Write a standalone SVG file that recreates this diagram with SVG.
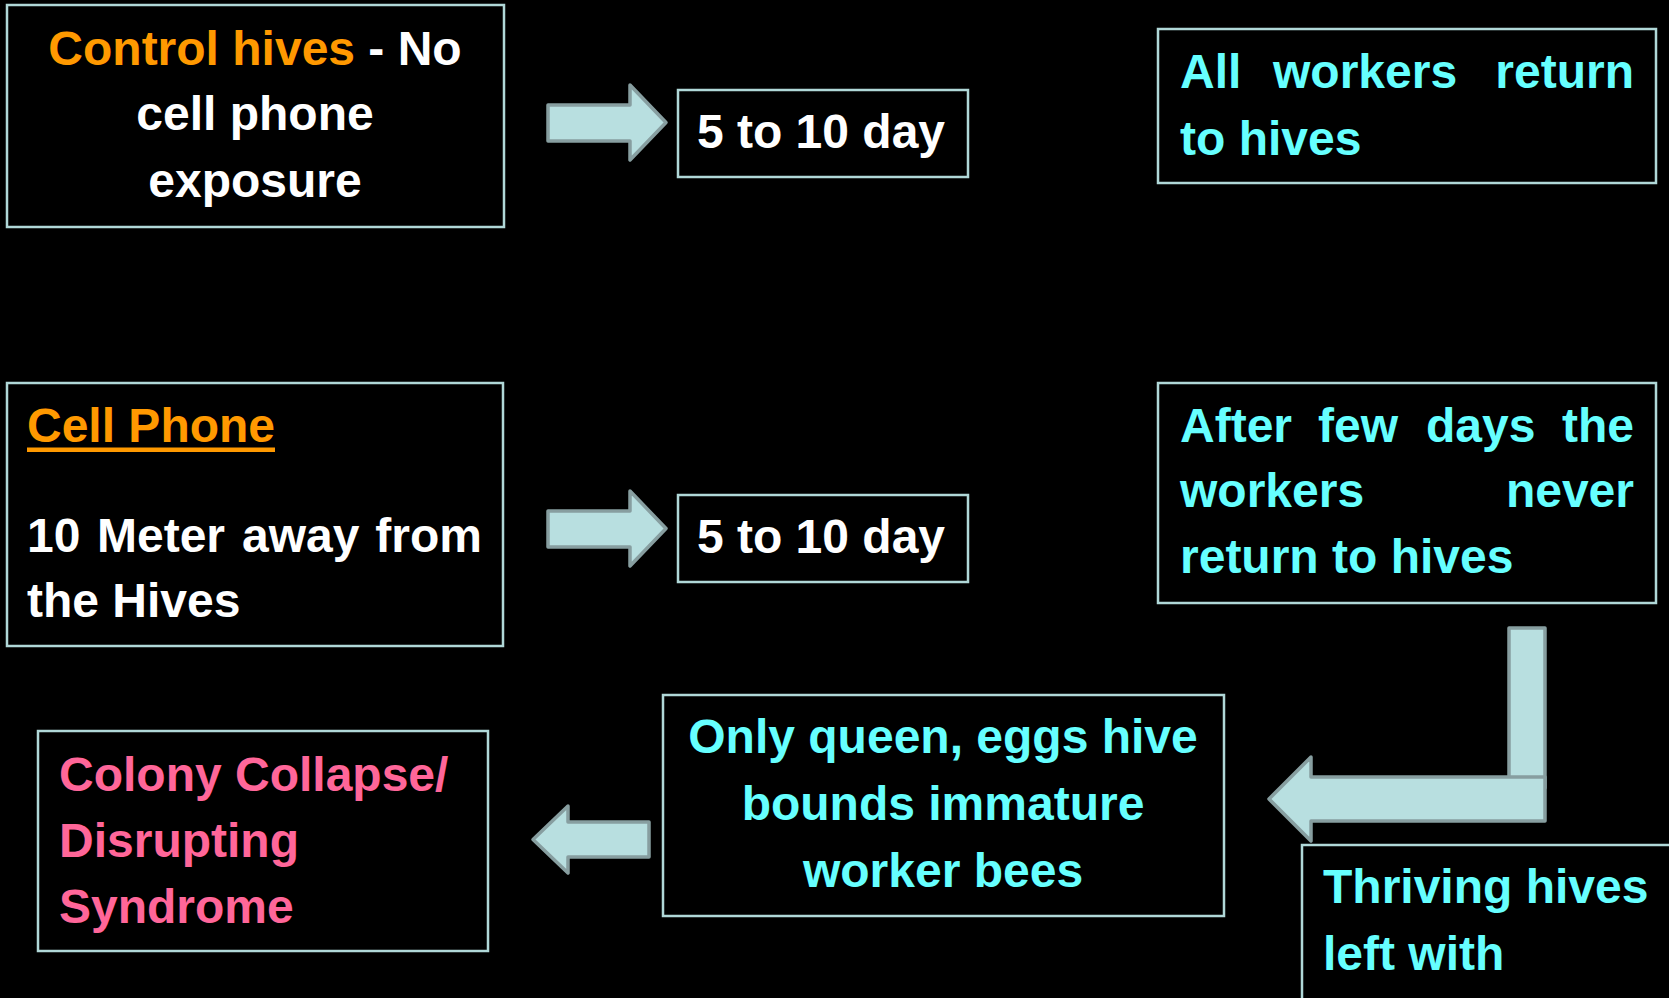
<svg xmlns="http://www.w3.org/2000/svg" width="1669" height="998" viewBox="0 0 1669 998">
<style>
.box{fill:#000;stroke:#b0d8d8;stroke-width:2.5}
.arr{fill:#b8dfe0;stroke:#879ea0;stroke-width:3.5;stroke-linejoin:round}
text{font-family:"Liberation Sans",Arial,sans-serif;font-weight:bold;font-size:48px}
.w{fill:#ffffff}.o{fill:#ff9900}.c{fill:#66ffff}.p{fill:#ff6699}
.m{text-anchor:middle}.e{text-anchor:end}
</style>
<rect width="1669" height="998" fill="#000"/>
<g id="connectors">
<polygon class="arr" points="548,105 630,105 630,85 666,122.5 630,160 630,141 548,141"/>
<polygon class="arr" points="548,511 630,511 630,491 666,528.5 630,566 630,547 548,547"/>
<polygon class="arr" points="649,822 568,822 568,806 533,839.5 568,873 568,857 649,857"/>
<rect class="arr" x="1509" y="628" width="36" height="160"/>
<polygon class="arr" points="1545,777 1311,777 1311,757 1269,799 1311,841 1311,821 1545,821"/>
</g>
<g id="control">
<rect class="box" x="7" y="5" width="497" height="222"/>
<text class="m" x="255" y="65"><tspan class="o">Control hives</tspan><tspan class="w"> - No</tspan></text>
<text class="w m" x="255" y="130">cell phone</text>
<text class="w m" x="255" y="197">exposure</text>
</g>
<g id="days1">
<rect class="box" x="678" y="90" width="290" height="87"/>
<text class="w m" x="821" y="148">5 to 10 day</text>
</g>
<g id="return">
<rect class="box" x="1158" y="29" width="498" height="154"/>
<text class="c" x="1180" y="88">All</text>
<text class="c" x="1273" y="88">workers</text>
<text class="c e" x="1634" y="88">return</text>
<text class="c" x="1180" y="155">to hives</text>
</g>
<g id="cellphone">
<rect class="box" x="7" y="383" width="496" height="263"/>
<text class="o" x="27" y="442">Cell Phone</text>
<rect x="27" y="447.5" width="248" height="4.5" fill="#ff9900"/>
<text class="w" x="27" y="552">10</text>
<text class="w" x="97" y="552">Meter</text>
<text class="w" x="242" y="552">away</text>
<text class="w e" x="482" y="552">from</text>
<text class="w" x="27" y="617">the Hives</text>
</g>
<g id="days2">
<rect class="box" x="678" y="495" width="290" height="87"/>
<text class="w m" x="821" y="553">5 to 10 day</text>
</g>
<g id="never">
<rect class="box" x="1158" y="383" width="498" height="220"/>
<text class="c" x="1180" y="442">After</text>
<text class="c" x="1318" y="442">few</text>
<text class="c" x="1426" y="442">days</text>
<text class="c e" x="1634" y="442">the</text>
<text class="c" x="1180" y="507">workers</text>
<text class="c e" x="1634" y="507">never</text>
<text class="c" x="1180" y="573">return to hives</text>
</g>
<g id="thriving">
<rect class="box" x="1302" y="845" width="420" height="200"/>
<text class="c" x="1323" y="903">Thriving hives</text>
<text class="c" x="1323" y="970">left with</text>
</g>
<g id="queen">
<rect class="box" x="663" y="695" width="561" height="221"/>
<text class="c m" x="943" y="753">Only queen, eggs hive</text>
<text class="c m" x="943" y="820">bounds immature</text>
<text class="c m" x="943" y="887">worker bees</text>
</g>
<g id="collapse">
<rect class="box" x="38" y="731" width="450" height="220"/>
<text class="p" x="59" y="791">Colony Collapse/</text>
<text class="p" x="59" y="857">Disrupting</text>
<text class="p" x="59" y="923">Syndrome</text>
</g>
</svg>
